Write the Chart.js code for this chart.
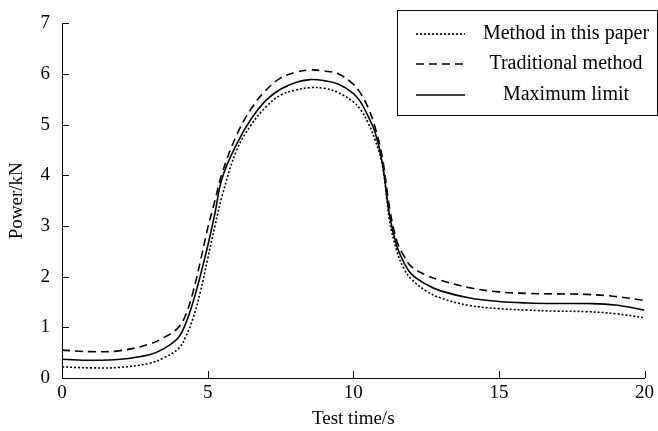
<!DOCTYPE html>
<html>
<head>
<meta charset="utf-8">
<script src="https://cdn.jsdelivr.net/npm/chart.js@4.4.1/dist/chart.umd.min.js"></script>
<style>
html,body{margin:0;padding:0;background:#fff;}
#wrap{width:658px;height:431px;position:relative;}
</style>
</head>
<body>
<div id="wrap"><canvas id="c" width="658" height="431"></canvas></div>
<script>
const times = [0,1,2,3,3.5,4,4.25,4.5,4.75,5,5.25,5.5,6,6.5,7,7.5,8,8.5,9,9.5,10,10.25,10.5,10.75,11,11.25,11.5,11.75,12,12.5,13,14,15,16,17,18,19,20];
const methodPaper = [0.22,0.2,0.21,0.29,0.4,0.58,0.82,1.18,1.7,2.35,3.0,3.6,4.5,5.0,5.35,5.58,5.68,5.73,5.72,5.63,5.45,5.3,5.05,4.7,4.2,3.1,2.5,2.15,1.95,1.72,1.58,1.43,1.37,1.34,1.32,1.31,1.27,1.19];
const traditional = [0.55,0.52,0.54,0.67,0.8,1.0,1.25,1.7,2.3,2.95,3.5,4.05,4.8,5.32,5.68,5.92,6.03,6.08,6.06,6.0,5.8,5.62,5.35,4.95,4.35,3.35,2.7,2.4,2.2,2.03,1.93,1.78,1.7,1.67,1.66,1.65,1.61,1.53];
const maxLimit = [0.37,0.35,0.37,0.46,0.58,0.8,1.08,1.5,2.02,2.6,3.25,3.95,4.62,5.12,5.48,5.7,5.83,5.89,5.87,5.8,5.62,5.45,5.18,4.85,4.24,3.2,2.6,2.27,2.05,1.85,1.72,1.58,1.51,1.48,1.47,1.47,1.44,1.34];
const seriesNames = ['Method in this paper','Traditional method','Maximum limit'];
const yTicks = [0,1,2,3,4,5,6,7];
const xTicks = [0,5,10,15,20];

const FONT = '"Liberation Serif","Times New Roman",serif';
const pts = arr => times.map((t,i)=>({x:t,y:arr[i]}));

const inwardTicks = {
  id:'inwardTicks',
  afterDraw(chart){
    const ctx = chart.ctx, xs = chart.scales.x, ys = chart.scales.y;
    const area = chart.chartArea;
    ctx.save();
    ctx.strokeStyle = '#000'; ctx.lineWidth = 1;
    ctx.beginPath();
    xTicks.forEach(v=>{
      const px = Math.round(xs.getPixelForValue(v))+0.5;
      ctx.moveTo(px, area.bottom); ctx.lineTo(px, area.bottom-7);
    });
    yTicks.forEach(v=>{
      const py = Math.round(ys.getPixelForValue(v))+0.5;
      ctx.moveTo(area.left, py); ctx.lineTo(area.left+7, py);
    });
    ctx.stroke();
    ctx.restore();
  }
};

const boxLegend = {
  id:'boxLegend',
  afterDraw(chart){
    const ctx = chart.ctx;
    const L = 397.5, T = 10.5, R = 657.5, B = 115.5;
    ctx.save();
    ctx.fillStyle = '#fff';
    ctx.fillRect(L, T, R-L, B-T);
    ctx.strokeStyle = '#000'; ctx.lineWidth = 1;
    ctx.strokeRect(L, T, R-L, B-T);
    const rows = [34, 64, 95];
    chart.data.datasets.forEach((ds,i)=>{
      const y = rows[i];
      ctx.beginPath();
      ctx.setLineDash(ds.borderDash || []);
      ctx.lineWidth = ds.borderWidth;
      ctx.strokeStyle = ds.borderColor;
      ctx.moveTo(416, y); ctx.lineTo(465, y);
      ctx.stroke();
      ctx.setLineDash([]);
      ctx.fillStyle = '#000';
      ctx.font = '20px ' + FONT;
      ctx.textAlign = 'center';
      ctx.textBaseline = 'middle';
      ctx.fillText(ds.label, 566, y);
    });
    ctx.restore();
  }
};

new Chart(document.getElementById('c'), {
  type:'line',
  data:{
    datasets:[
      {label:seriesNames[0], data:pts(methodPaper), borderColor:'#000', borderWidth:1.6, borderDash:[2,2], pointRadius:0, tension:0.4, fill:false},
      {label:seriesNames[1], data:pts(traditional), borderColor:'#000', borderWidth:1.6, borderDash:[8,5], pointRadius:0, tension:0.4, fill:false},
      {label:seriesNames[2], data:pts(maxLimit), borderColor:'#000', borderWidth:1.6, pointRadius:0, tension:0.4, fill:false}
    ]
  },
  options:{
    responsive:false,
    animation:false,
    layout:{padding:{left:0,right:12,top:18,bottom:0}},
    plugins:{legend:{display:false}, tooltip:{enabled:false}},
    scales:{
      x:{
        type:'linear', min:0, max:20,
        afterBuildTicks(s){ s.ticks = xTicks.map(v=>({value:v})); },
        afterFit(s){ s.height = 53; },
        grid:{display:false, drawTicks:false},
        border:{display:true, color:'#000', width:1},
        ticks:{color:'#000', font:{family:FONT, size:19}, padding:4, maxRotation:0},
        title:{display:true, text:'Test time/s', color:'#000', font:{family:FONT, size:19}, padding:{top:0,bottom:1}}
      },
      y:{
        type:'linear', min:0, max:7,
        afterBuildTicks(s){ s.ticks = yTicks.map(v=>({value:v})); },
        afterFit(s){ s.width = 62; },
        grid:{display:false, drawTicks:false},
        border:{display:true, color:'#000', width:1},
        ticks:{color:'#000', font:{family:FONT, size:19}, padding:12},
        title:{display:true, text:'Power/kN', color:'#000', font:{family:FONT, size:19}, padding:{top:6,bottom:0}}
      }
    }
  },
  plugins:[inwardTicks, boxLegend]
});
</script>
</body>
</html>
